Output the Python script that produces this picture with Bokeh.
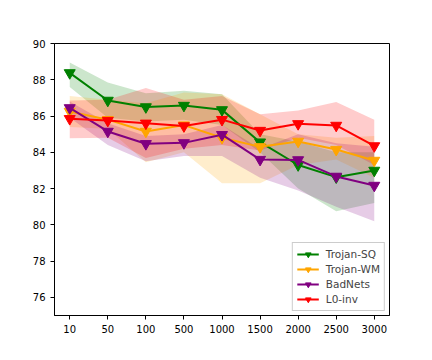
from bokeh.plotting import figure
from bokeh.models import FixedTicker, Range1d, Legend, LegendItem
from bokeh.embed import file_html
from bokeh.resources import INLINE

x_labels = ["10", "50", "100", "500", "1000", "1500", "2000", "2500", "3000"]

sq_mean = [88.38, 86.86, 86.5, 86.58, 86.34, 84.56, 83.3, 82.63, 83.0]
sq_upper = [88.95, 87.85, 87.25, 87.4, 87.2, 85.0, 84.6, 84.0, 84.0]
sq_lower = [87.6, 85.9, 85.7, 85.8, 85.5, 84.0, 82.0, 80.75, 81.2]

wm_mean = [86.25, 85.8, 85.15, 85.5, 84.8, 84.3, 84.6, 84.15, 83.55]
wm_upper = [87.1, 86.9, 86.7, 87.3, 87.2, 86.1, 85.0, 84.8, 84.9]
wm_lower = [85.4, 85.3, 83.45, 84.0, 82.3, 82.3, 83.3, 83.6, 82.6]

bn_mean = [86.45, 85.15, 84.47, 84.52, 84.97, 83.6, 83.58, 82.67, 82.17]
bn_upper = [86.8, 85.6, 84.9, 85.0, 85.5, 84.2, 85.0, 84.5, 84.3]
bn_lower = [85.9, 84.4, 83.5, 83.8, 83.8, 82.6, 81.9, 81.0, 80.2]

l0_mean = [85.85, 85.75, 85.6, 85.45, 85.8, 85.2, 85.57, 85.48, 84.35]
l0_upper = [86.85, 86.9, 87.55, 86.9, 87.1, 86.1, 86.3, 86.77, 85.8]
l0_lower = [84.78, 84.8, 83.68, 84.2, 84.4, 84.1, 84.8, 84.4, 83.3]

y_ticks = [76, 78, 80, 82, 84, 86, 88, 90]

series = [
    ("Trojan-SQ", "green", sq_mean, sq_upper, sq_lower),
    ("Trojan-WM", "orange", wm_mean, wm_upper, wm_lower),
    ("BadNets", "purple", bn_mean, bn_upper, bn_lower),
    ("L0-inv", "red", l0_mean, l0_upper, l0_lower),
]

xs = list(range(len(x_labels)))

p = figure(width=416, height=344, output_backend="svg", toolbar_location=None,
           x_range=Range1d(-0.4, len(x_labels) - 1 + 0.4), y_range=Range1d(75, 90),
           min_border_left=54, min_border_right=27, min_border_top=43, min_border_bottom=29)
p.xgrid.visible = False
p.ygrid.visible = False
p.outline_line_color = "black"
p.outline_line_width = 1

for ax in (p.xaxis[0], p.yaxis[0]):
    ax.major_label_text_font = "DejaVu Sans"
    ax.major_label_text_font_size = "10px"
    ax.major_label_text_color = "black"
    ax.axis_line_color = "black"
    ax.major_tick_line_color = "black"
    ax.major_tick_out = 4
    ax.major_tick_in = 0
    ax.minor_tick_line_color = None

p.xaxis.ticker = FixedTicker(ticks=xs)
p.xaxis.major_label_overrides = {i: l for i, l in enumerate(x_labels)}
p.yaxis.ticker = FixedTicker(ticks=y_ticks)

items = []
for name, color, mean, up, lo in series:
    p.varea(x=xs, y1=lo, y2=up, fill_color=color, fill_alpha=0.2)
for name, color, mean, up, lo in series:
    r1 = p.line(xs, mean, line_color=color, line_width=2)
    r2 = p.scatter(xs, mean, marker="inverted_triangle", size=11, fill_color=color, line_color=color)
    items.append(LegendItem(label=name, renderers=[r1, r2]))

legend = Legend(items=items, location="bottom_right")
legend.label_text_font = "DejaVu Sans"
legend.label_text_font_size = "10.5px"
legend.label_height = 14
legend.glyph_height = 14
legend.glyph_width = 22
legend.label_standoff = 7
legend.spacing = 1
legend.padding = 4
legend.margin = 4
legend.border_line_color = "#cccccc"
legend.border_line_alpha = 1
legend.background_fill_alpha = 0.8
p.add_layout(legend)

open("out.html", "w").write(file_html(p, INLINE))
